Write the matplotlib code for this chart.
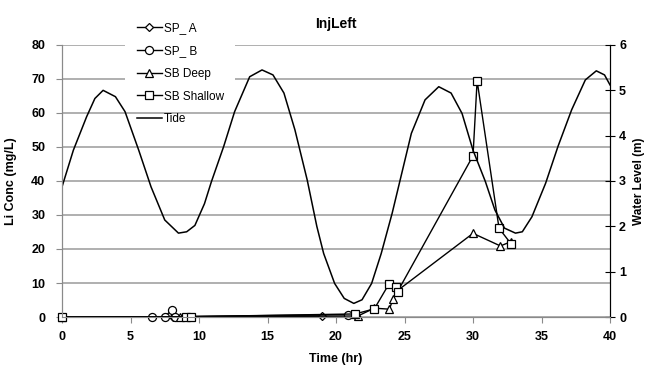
import matplotlib.pyplot as plt
from matplotlib.patches import Rectangle

plt.rcParams['font.family'] = ['Liberation Sans', 'DejaVu Sans']

# Lithium concentrations (mg/L) by well, time in hours
spa_time = [0, 8.1, 19.0]
spa_conc = [0, 0.1, 0.3]

spb_time = [6.55, 7.5, 8.0, 8.25, 20.85]
spb_conc = [0.1, 0.1, 2.0, 0.1, 0.7]

deep_time = [0, 8.6, 21.6, 22.8, 23.9, 24.15, 24.5, 30.0, 32.0, 32.8]
deep_conc = [0, 0.0, 0.3, 2.6, 2.3, 5.2, 7.8, 24.6, 20.9, 22.2]

shallow_time = [0, 9.05, 9.4, 21.4, 22.8, 23.85, 24.4, 24.5, 30.0, 30.3, 31.9, 32.8]
shallow_conc = [0, 0.1, 0.1, 0.9, 2.4, 9.6, 8.8, 7.5, 47.4, 69.5, 26.1, 21.4]

# Tide water level (m)
tide_hours = [0, 0.83, 1.8, 2.4, 3.0, 3.9, 4.6, 5.6, 6.5, 7.5, 8.5, 9.1, 9.7,
              10.4, 10.9, 11.8, 12.6, 13.7, 14.6, 15.4, 16.2, 17.0, 17.9,
              18.6, 19.1, 19.9, 20.6, 21.3, 21.9, 22.6, 23.3, 24.1, 24.8,
              25.5, 26.5, 27.5, 28.4, 29.2, 30.0, 30.9, 31.6, 32.3, 33.1,
              33.6, 34.3, 35.3, 36.2, 37.2, 38.2, 39.0, 39.6, 40.0]
tide_level = [2.87, 3.68, 4.42, 4.82, 5.00, 4.86, 4.53, 3.68, 2.87, 2.14,
              1.85, 1.88, 2.02, 2.50, 2.98, 3.76, 4.53, 5.30, 5.45, 5.34,
              4.94, 4.13, 3.02, 2.00, 1.40, 0.74, 0.41, 0.30, 0.38, 0.74,
              1.40, 2.29, 3.17, 4.05, 4.79, 5.08, 4.94, 4.49, 3.68, 2.99,
              2.36, 1.96, 1.85, 1.88, 2.21, 2.95, 3.76, 4.57, 5.23, 5.43,
              5.34, 5.12]

x_ticks = [0, 5, 10, 15, 20, 25, 30, 35, 40]
conc_ticks = [0, 10, 20, 30, 40, 50, 60, 70, 80]
level_ticks = [0, 1, 2, 3, 4, 5, 6]

fig = plt.figure(figsize=(6.48, 3.66), dpi=100)
ax = fig.add_axes([62 / 648, 1 - 317 / 366, 548 / 648, 272 / 366])
ax2 = ax.twinx()

marker_style = dict(color='black', lw=1.0, mfc='white', mec='black', mew=0.9,
                    zorder=3, clip_on=False)
ax.plot(spa_time, spa_conc, marker='D', ms=4.5, label='SP_ A', **marker_style)
ax.plot(spb_time, spb_conc, marker='o', ms=5.8, label='SP_ B', **marker_style)
ax.plot(deep_time, deep_conc, marker='^', ms=6.2, label='SB Deep', **marker_style)
ax.plot(shallow_time, shallow_conc, marker='s', ms=6, label='SB Shallow', **marker_style)

ax2.plot(tide_hours, tide_level, color='black', lw=1.1, label='Tide')

# Axes limits and ticks
ax.set_xlim(0, 40)
ax.set_ylim(0, 80)
ax2.set_ylim(0, 6)
ax.set_xticks(x_ticks)
ax.set_yticks(conc_ticks)
ax2.set_yticks(level_ticks)

ax.set_axisbelow(True)
ax.yaxis.grid(True, color='#9a9a9a', lw=1.1)

for a in (ax, ax2):
    a.spines['top'].set_visible(False)
    a.spines['left'].set_color('#8a8a8a')
    a.spines['bottom'].set_color('#8a8a8a')
    a.spines['right'].set_color('black')

ax.tick_params(axis='x', direction='out', length=4, color='#8a8a8a', pad=6,
               labelsize=9)
ax.tick_params(axis='y', direction='out', length=4, color='#8a8a8a', pad=8,
               labelsize=9)
ax2.tick_params(axis='y', direction='inout', length=7, color='black', pad=3,
                labelsize=9)
for lbl in ax.get_xticklabels() + ax.get_yticklabels() + ax2.get_yticklabels():
    lbl.set_fontweight('bold')

ax.set_xlabel('Time (hr)', fontsize=9, fontweight='bold', labelpad=7)
ax.set_ylabel('Li Conc (mg/L)', fontsize=9, fontweight='bold', labelpad=10)
ax2.set_ylabel('Water Level (m)', fontsize=8.5, fontweight='bold', labelpad=5)
ax.set_title('InjLeft', fontsize=10, fontweight='bold', pad=12)

# White backing behind the legend entries
ax.add_patch(Rectangle((125 / 648, 1 - 108 / 366), 110 / 648, 108 / 366,
                       transform=fig.transFigure, facecolor='white',
                       edgecolor='none', zorder=1, clip_on=False))

handles, labels = ax.get_legend_handles_labels()
h2, l2 = ax2.get_legend_handles_labels()
fig.legend(handles + h2, labels + l2, loc='upper left',
           bbox_to_anchor=(137 / 648, 1 - 22 / 366), frameon=False,
           fontsize=8.5, borderpad=0, borderaxespad=0, handlelength=2.1,
           handletextpad=0.15, labelspacing=0.92)

fig.savefig('out.png', dpi=100)
